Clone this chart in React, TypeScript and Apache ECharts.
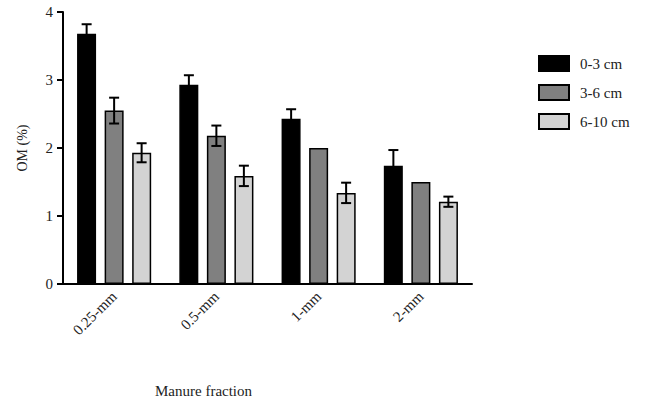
import React, { useEffect, useRef } from "react";
import * as echarts from "echarts";

const categories = ["0.25-mm", "0.5-mm", "1-mm", "2-mm"];
const seriesNames = ["0-3 cm", "3-6 cm", "6-10 cm"];
const values0to3 = [3.68, 2.93, 2.43, 1.74];
const values3to6 = [2.55, 2.18, 2.0, 1.5];
const values6to10 = [1.93, 1.59, 1.34, 1.21];
const err0to3 = [0.14, 0.14, 0.14, 0.23];
const err3to6 = [0.19, 0.15, 0, 0];
const err6to10 = [0.14, 0.15, 0.15, 0.075];
const colors = ["#000000", "#808080", "#d3d3d3"];

const FONT = "Liberation Serif";

export default function App() {
  const ref = useRef<HTMLDivElement>(null);
  useEffect(() => {
    const chart = echarts.init(ref.current!, null, { renderer: "svg" });
    const vals = [values0to3, values3to6, values6to10];
    const errs = [err0to3, err3to6, err6to10];
    const barSeries = vals.map((v, i) => ({
      name: seriesNames[i],
      type: "bar",
      data: v,
      barWidth: 19,
      barGap: "45%",
      itemStyle: { color: colors[i], borderColor: "#000", borderWidth: 1.5 },
    }));
    const errSeries = vals.map((v, i) => ({
      type: "custom",
      silent: true,
      z: 5,
      data: v.map((val, j) => [j, val, errs[i][j]]),
      renderItem: (params: any, api: any) => {
        const cat = api.value(0);
        const val = api.value(1);
        const e = api.value(2);
        if (!e) return null;
        const off = (i - 1) * 27.5;
        const hi = api.coord([cat, val + e]);
        const lo = api.coord([cat, val - e]);
        const x = hi[0] + off;
        const cap = 5;
        const st = { stroke: "#000", lineWidth: 2 };
        return {
          type: "group",
          children: [
            { type: "line", shape: { x1: x, y1: hi[1], x2: x, y2: lo[1] }, style: st },
            { type: "line", shape: { x1: x - cap, y1: hi[1], x2: x + cap, y2: hi[1] }, style: st },
            { type: "line", shape: { x1: x - cap, y1: lo[1], x2: x + cap, y2: lo[1] }, style: st },
          ],
        };
      },
    }));
    chart.setOption({
      animation: false,
      textStyle: { fontFamily: FONT },
      grid: { left: 63, right: 183, top: 12, bottom: 119, containLabel: false },
      legend: {
        orient: "vertical",
        left: 533,
        top: 50,
        icon: "rect",
        itemWidth: 30,
        itemHeight: 15,
        itemGap: 12,
        data: seriesNames,
        textStyle: { fontFamily: FONT, fontSize: 15, color: "#222", padding: [0, 0, 0, 6] },
      },
      xAxis: {
        type: "category",
        data: categories,
        axisLine: { lineStyle: { color: "#000", width: 2 } },
        axisTick: { alignWithLabel: true, length: 6, lineStyle: { color: "#000", width: 2 } },
        axisLabel: { rotate: 45, margin: 10, fontFamily: FONT, fontSize: 15, color: "#222" },
      },
      yAxis: {
        type: "value",
        min: 0,
        max: 4,
        interval: 1,
        name: "OM (%)",
        nameLocation: "middle",
        nameGap: 34,
        nameTextStyle: { fontFamily: FONT, fontSize: 14, color: "#222" },
        splitLine: { show: false },
        axisLine: { show: true, lineStyle: { color: "#000", width: 2 } },
        axisTick: { show: true, length: 6, lineStyle: { color: "#000", width: 2 } },
        axisLabel: { margin: 10, fontFamily: FONT, fontSize: 15, color: "#222" },
      },
      graphic: [
        {
          type: "text",
          left: 155,
          top: 383,
          style: { text: "Manure fraction", fontFamily: FONT, fontSize: 15, fill: "#222" },
        },
      ],
      series: [...barSeries, ...errSeries],
    });
    return () => chart.dispose();
  }, []);
  return (
    <div
      ref={ref}
      style={{ position: "absolute", left: 0, top: 0, width: 655, height: 403 }}
    />
  );
}
